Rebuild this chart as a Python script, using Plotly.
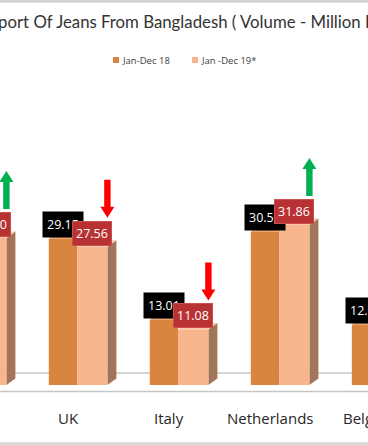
import plotly.graph_objects as go

# ---------------- data ----------------
categories = ["Germany", "UK", "Italy", "Netherlands", "Belgium"]
jan_dec_18 = [27.80, 29.15, 13.01, 30.52, 12.04]
jan_dec_19 = [29.30, 27.56, 11.08, 31.86, 11.40]
series_names = ["Jan-Dec 18", "Jan -Dec 19*"]
title_text = "Export Of Jeans From Bangladesh ( Volume - Million Pcs )"

# ---------------- geometry / style ----------------
W, H = 368, 445
PX_CAT = 101.0          # pixels per category
PX_UNIT = 5.02          # pixels per data unit
BASE_PX = 385.0         # pixel row of value 0
CAT1_PX = 68.0          # pixel column of category index 1
X_LO = 1 - CAT1_PX / PX_CAT
X_HI = X_LO + W / PX_CAT
Y_LO = -(H - BASE_PX) / PX_UNIT
Y_HI = BASE_PX / PX_UNIT

C18 = "#D9843F"
C19 = "#F8B68F"
C_SIDE = "#A2745A"
C_TOP19 = "#FBC7A8"
C_TOP18 = "#E69A5E"
OFF18, WID18 = -0.19, 0.28
OFF19, WID19 = 0.09, 0.30
DX = 9 / PX_CAT
DY = 6.5 / PX_UNIT
FONT = "Open Sans"

idx = list(range(len(categories)))


def xp(v):
    """data x -> paper x"""
    return (v - X_LO) / (X_HI - X_LO)


def yp(pix):
    return 1 - pix / H


fig = go.Figure()
fig.add_trace(go.Bar(x=idx, y=jan_dec_18, offset=OFF18, width=WID18,
                     marker=dict(color=C18, line=dict(width=0)),
                     name=series_names[0], showlegend=False))
fig.add_trace(go.Bar(x=idx, y=jan_dec_19, offset=OFF19, width=WID19,
                     marker=dict(color=C19, line=dict(width=0)),
                     name=series_names[1], showlegend=False))

shapes = []
# floor lines
shapes.append(dict(type="line", xref="paper", yref="y", x0=0, x1=1,
                   y0=(BASE_PX - 373) / PX_UNIT, y1=(BASE_PX - 373) / PX_UNIT,
                   line=dict(color="#C6C6C6", width=1.5), layer="below"))
shapes.append(dict(type="line", xref="paper", yref="y", x0=0, x1=1,
                   y0=(BASE_PX - 391.5) / PX_UNIT, y1=(BASE_PX - 391.5) / PX_UNIT,
                   line=dict(color="#C6C6C6", width=1.5), layer="below"))
# frame lines
shapes.append(dict(type="line", xref="paper", yref="paper", x0=0, x1=1,
                   y0=yp(443.5), y1=yp(443.5), line=dict(color="#D6D6D6", width=2.5)))
shapes.append(dict(type="line", xref="paper", yref="paper", x0=0, x1=1,
                   y0=yp(1.2), y1=yp(1.2), line=dict(color="#D3D3D3", width=3)))

for i, v18, v19 in zip(idx, jan_dec_18, jan_dec_19):
    # 3D top face of 2018 bar
    l, r = i + OFF18, i + OFF18 + WID18
    shapes.append(dict(type="path", xref="x", yref="y", layer="below",
                       path=f"M{l},{v18} L{l+DX},{v18+DY} L{r+DX},{v18+DY} L{r},{v18} Z",
                       fillcolor=C_TOP18, line=dict(width=0)))
    # 3D side & top face of 2019 bar
    l, r = i + OFF19, i + OFF19 + WID19
    shapes.append(dict(type="path", xref="x", yref="y", layer="below",
                       path=f"M{r},0 L{r+DX},{DY} L{r+DX},{v19+DY} L{r},{v19} Z",
                       fillcolor=C_SIDE, line=dict(width=0)))
    shapes.append(dict(type="path", xref="x", yref="y", layer="below",
                       path=f"M{l},{v19} L{l+DX},{v19+DY} L{r+DX},{v19+DY} L{r},{v19} Z",
                       fillcolor=C_TOP19, line=dict(width=0)))
    # trend arrow
    up = v19 > v18
    cx = r
    y_near = v19 + 29 / PX_UNIT
    y_far = v19 + 67 / PX_UNIT
    sw, hw = 3.2 / PX_CAT, 7 / PX_CAT
    hl = 11 / PX_UNIT
    if up:
        yb, yt = y_near, y_far
        p = (f"M{cx-sw},{yb} L{cx+sw},{yb} L{cx+sw},{yt-hl} L{cx+hw},{yt-hl} "
             f"L{cx},{yt} L{cx-hw},{yt-hl} L{cx-sw},{yt-hl} Z")
        col = "#00B050"
    else:
        yb, yt = y_near, y_far
        p = (f"M{cx-sw},{yt} L{cx+sw},{yt} L{cx+sw},{yb+hl} L{cx+hw},{yb+hl} "
             f"L{cx},{yb} L{cx-hw},{yb+hl} L{cx-sw},{yb+hl} Z")
        col = "#FF0000"
    shapes.append(dict(type="path", xref="x", yref="y", path=p,
                       fillcolor=col, line=dict(width=0)))

# legend squares
shapes.append(dict(type="rect", xref="paper", yref="paper",
                   x0=113 / W, x1=119 / W, y0=yp(63), y1=yp(57),
                   fillcolor=C18, line=dict(width=0)))
shapes.append(dict(type="rect", xref="paper", yref="paper",
                   x0=192 / W, x1=198 / W, y0=yp(63), y1=yp(57),
                   fillcolor=C19, line=dict(width=0)))

annotations = []
# value labels: 2018 (black) first, then 2019 (red) on top
for i, v in zip(idx, jan_dec_18):
    annotations.append(dict(xref="paper", yref="y", x=xp(i + OFF18 + WID18 / 2), y=v,
                            text=f"{v:.2f}", showarrow=False,
                            xanchor="center", yanchor="bottom", yshift=1,
                            bgcolor="#000000", borderpad=4,
                            font=dict(family=FONT, size=12.5, color="white")))
for i, v in zip(idx, jan_dec_19):
    annotations.append(dict(xref="paper", yref="y", x=xp(i + OFF19 + WID19 / 2), y=v,
                            text=f"{v:.2f}", showarrow=False,
                            xanchor="center", yanchor="bottom", yshift=1,
                            bgcolor="#B83234", bordercolor="#C9504F", borderwidth=1, borderpad=3,
                            font=dict(family=FONT, size=12.5, color="white")))
# category labels
for i, c in zip(idx, categories):
    annotations.append(dict(xref="paper", yref="y", x=xp(i), y=(BASE_PX - 418) / PX_UNIT,
                            text=c, showarrow=False, xanchor="center", yanchor="middle",
                            font=dict(family=FONT, size=15, color="#262626")))
# legend text
annotations.append(dict(xref="paper", yref="paper", x=120 / W, y=yp(60), text=series_names[0],
                        showarrow=False, xanchor="left", yanchor="middle",
                        font=dict(family=FONT, size=9.5, color="#404040")))
annotations.append(dict(xref="paper", yref="paper", x=199 / W, y=yp(60), text=series_names[1],
                        showarrow=False, xanchor="left", yanchor="middle",
                        font=dict(family=FONT, size=9.5, color="#404040")))
# title
annotations.append(dict(xref="paper", yref="paper", x=-22 / W, y=yp(22), text=title_text,
                        showarrow=False, xanchor="left", yanchor="middle",
                        font=dict(family="Lato", size=16.8, color="#333333")))

fig.update_layout(
    width=W, height=H,
    margin=dict(l=0, r=0, t=0, b=0),
    paper_bgcolor="white", plot_bgcolor="white",
    barmode="overlay",
    xaxis=dict(range=[X_LO, X_HI], visible=False, fixedrange=True),
    yaxis=dict(range=[Y_LO, Y_HI], visible=False, fixedrange=True),
    shapes=shapes, annotations=annotations,
    showlegend=False,
)

fig.write_html("out.html", config={"displayModeBar": False},
               post_script="document.body.style.margin='0';document.body.style.overflow='hidden';")
